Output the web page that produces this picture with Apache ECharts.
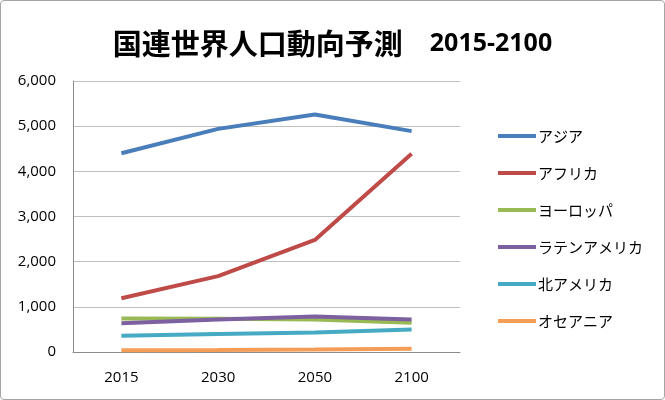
<!DOCTYPE html>
<html><head><meta charset="utf-8">
<script src="https://cdn.jsdelivr.net/npm/echarts@6/dist/echarts.min.js"></script>
<style>
html,body{margin:0;padding:0;background:#fff;}
#c{width:663px;height:398px;border:1px solid #a6a6a6;border-radius:4px;}
</style></head>
<body><div id="c"></div>
<script>
const categories = ['2015','2030','2050','2100'];
const asia = [4400, 4940, 5260, 4890];
const africa = [1190, 1680, 2480, 4390];
const europe = [740, 735, 720, 650];
const latinAmerica = [634, 720, 784, 722];
const northAmerica = [358, 396, 433, 500];
const oceania = [39, 47, 57, 71];
const seriesNames = ['アジア','アフリカ','ヨーロッパ','ラテンアメリカ','北アメリカ','オセアニア'];
const seriesData = [asia, africa, europe, latinAmerica, northAmerica, oceania];
const colors = ['#4a7ebb','#be4b48','#98b954','#7d60a0','#46aac4','#f59d56'];
const titleMain = '国連世界人口動向予測';
const titleYears = '2015-2100';

const chart = echarts.init(document.getElementById('c'));
chart.setOption({
  animation:false,
  title:{text:'{a|' + titleMain + '}{b|' + titleYears + '}', left:'center', top:20,
    textStyle:{rich:{
      a:{fontFamily:'Noto Sans CJK JP', fontWeight:'bold', fontSize:29, color:'#000', lineHeight:36, verticalAlign:'middle'},
      b:{fontFamily:'Open Sans', fontWeight:'bold', fontSize:25, color:'#000', lineHeight:36, verticalAlign:'middle', padding:[0,0,0,27]}
    }}},
  legend:{orient:'vertical', left:492, top:120, itemWidth:38, itemHeight:4, icon:'rect', itemGap:17,
    data:seriesNames,
    textStyle:{fontFamily:'Noto Sans CJK JP', fontSize:15, color:'#000', lineHeight:20, padding:[0,0,0,-3]}},
  grid:{left:72, right:204, top:80, bottom:47},
  xAxis:{type:'category', data:categories, boundaryGap:true,
    axisLine:{lineStyle:{color:'#8c8c8c', width:1}}, axisTick:{show:false},
    axisLabel:{color:'#000', fontSize:15, fontFamily:'Open Sans', margin:18}},
  yAxis:{type:'value', min:0, max:6000, interval:1000,
    axisLine:{show:true, lineStyle:{color:'#8c8c8c'}}, axisTick:{show:false},
    splitLine:{lineStyle:{color:'#bfbfbf', width:1}},
    axisLabel:{color:'#000', fontSize:15, fontFamily:'Open Sans', margin:17,
      formatter:v=>v.toLocaleString('en-US')}},
  series: seriesNames.map((n,i)=>({name:n, type:'line', data:seriesData[i], showSymbol:false, symbol:'none',
    lineStyle:{width:4, color:colors[i]}, itemStyle:{color:colors[i]}}))
});
</script></body></html>
